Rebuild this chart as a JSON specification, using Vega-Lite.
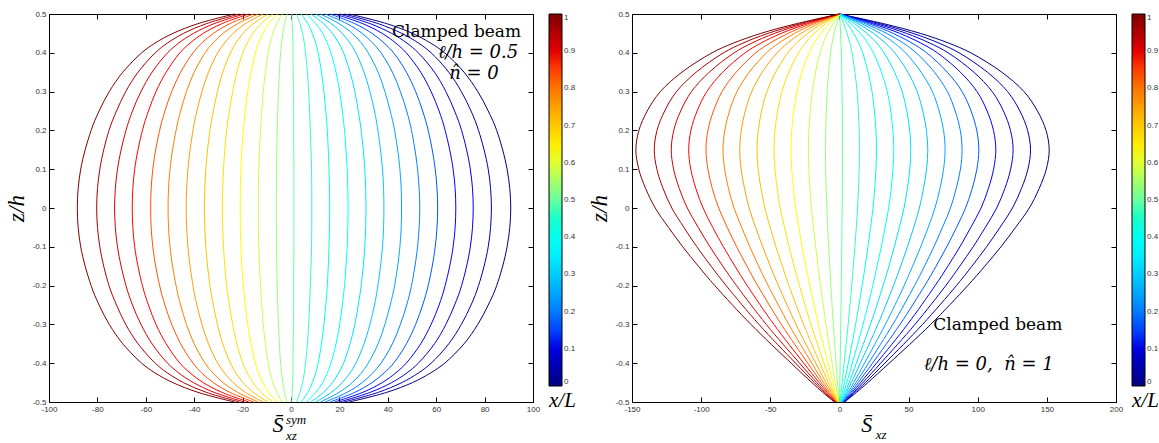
{
"$schema":"https://vega.github.io/schema/vega-lite/v6.json",
"background":"white",
"padding":{"left":4,"top":9,"right":0,"bottom":0},
"spacing":99,
"bounds":"flush",
"resolve":{"scale":{"color":"independent"}},
"config":{
 "view":{"stroke":"black","strokeWidth":1},
 "axis":{"grid":false,"domainColor":"black","domainWidth":1,"tickColor":"black","tickWidth":1,"tickSize":-5,"labelPadding":8,"labelFont":"Liberation Sans","labelFontSize":8,"labelColor":"#333333","labelFlush":false,"labelOverlap":false,"titleFont":"Liberation Serif","titleFontStyle":"italic","titleFontWeight":"normal","titleFontSize":23,"titleColor":"black"},
 "legend":{"gradientLength":372,"gradientThickness":13,"gradientStrokeColor":"black","gradientStrokeWidth":1,"labelFont":"Liberation Sans","labelFontSize":8,"labelColor":"#333333","labelOffset":2,"labelOverlap":false,"titleFont":"Liberation Serif","titleFontStyle":"italic","titleFontWeight":"normal","titleFontSize":21,"titleColor":"black","titleOrient":"bottom","titlePadding":3,"offset":15,"padding":0},
 "text":{"font":"Liberation Serif","fill":"black"}
},
"datasets":{
"L":[
{"c":0,"z":-0.5,"s":24.1},{"c":0,"z":-0.475,"s":39.6},{"c":0,"z":-0.45,"s":50.2},{"c":0,"z":-0.425,"s":57.7},{"c":0,"z":-0.4,"s":63.5},{"c":0,"z":-0.35,"s":71.5},{"c":0,"z":-0.3,"s":77.2},{"c":0,"z":-0.25,"s":81.5},{"c":0,"z":-0.2,"s":85.0},{"c":0,"z":-0.1,"s":89.3},{"c":0,"z":0,"s":90.8},{"c":0,"z":0.1,"s":89.3},{"c":0,"z":0.2,"s":85.0},{"c":0,"z":0.25,"s":81.5},{"c":0,"z":0.3,"s":77.2},{"c":0,"z":0.35,"s":71.5},{"c":0,"z":0.4,"s":63.5},{"c":0,"z":0.425,"s":57.7},{"c":0,"z":0.45,"s":50.2},{"c":0,"z":0.475,"s":39.6},{"c":0,"z":0.5,"s":24.1},
{"c":0.0417,"z":-0.5,"s":21.9},{"c":0.0417,"z":-0.475,"s":36.1},{"c":0.0417,"z":-0.45,"s":45.8},{"c":0.0417,"z":-0.425,"s":52.7},{"c":0.0417,"z":-0.4,"s":57.9},{"c":0.0417,"z":-0.35,"s":65.2},{"c":0.0417,"z":-0.3,"s":70.4},{"c":0.0417,"z":-0.25,"s":74.4},{"c":0.0417,"z":-0.2,"s":77.5},{"c":0.0417,"z":-0.1,"s":81.5},{"c":0.0417,"z":0,"s":82.8},{"c":0.0417,"z":0.1,"s":81.5},{"c":0.0417,"z":0.2,"s":77.5},{"c":0.0417,"z":0.25,"s":74.4},{"c":0.0417,"z":0.3,"s":70.4},{"c":0.0417,"z":0.35,"s":65.2},{"c":0.0417,"z":0.4,"s":57.9},{"c":0.0417,"z":0.425,"s":52.7},{"c":0.0417,"z":0.45,"s":45.8},{"c":0.0417,"z":0.475,"s":36.1},{"c":0.0417,"z":0.5,"s":21.9},
{"c":0.0833,"z":-0.5,"s":20.0},{"c":0.0833,"z":-0.475,"s":32.8},{"c":0.0833,"z":-0.45,"s":41.6},{"c":0.0833,"z":-0.425,"s":47.9},{"c":0.0833,"z":-0.4,"s":52.6},{"c":0.0833,"z":-0.35,"s":59.3},{"c":0.0833,"z":-0.3,"s":64.0},{"c":0.0833,"z":-0.25,"s":67.6},{"c":0.0833,"z":-0.2,"s":70.5},{"c":0.0833,"z":-0.1,"s":74.1},{"c":0.0833,"z":0,"s":75.3},{"c":0.0833,"z":0.1,"s":74.1},{"c":0.0833,"z":0.2,"s":70.5},{"c":0.0833,"z":0.25,"s":67.6},{"c":0.0833,"z":0.3,"s":64.0},{"c":0.0833,"z":0.35,"s":59.3},{"c":0.0833,"z":0.4,"s":52.6},{"c":0.0833,"z":0.425,"s":47.9},{"c":0.0833,"z":0.45,"s":41.6},{"c":0.0833,"z":0.475,"s":32.8},{"c":0.0833,"z":0.5,"s":20.0},
{"c":0.125,"z":-0.5,"s":18.0},{"c":0.125,"z":-0.475,"s":29.7},{"c":0.125,"z":-0.45,"s":37.7},{"c":0.125,"z":-0.425,"s":43.3},{"c":0.125,"z":-0.4,"s":47.6},{"c":0.125,"z":-0.35,"s":53.6},{"c":0.125,"z":-0.3,"s":57.9},{"c":0.125,"z":-0.25,"s":61.2},{"c":0.125,"z":-0.2,"s":63.7},{"c":0.125,"z":-0.1,"s":67.0},{"c":0.125,"z":0,"s":68.1},{"c":0.125,"z":0.1,"s":67.0},{"c":0.125,"z":0.2,"s":63.7},{"c":0.125,"z":0.25,"s":61.2},{"c":0.125,"z":0.3,"s":57.9},{"c":0.125,"z":0.35,"s":53.6},{"c":0.125,"z":0.4,"s":47.6},{"c":0.125,"z":0.425,"s":43.3},{"c":0.125,"z":0.45,"s":37.7},{"c":0.125,"z":0.475,"s":29.7},{"c":0.125,"z":0.5,"s":18.0},
{"c":0.1667,"z":-0.5,"s":16.1},{"c":0.1667,"z":-0.475,"s":26.4},{"c":0.1667,"z":-0.45,"s":33.5},{"c":0.1667,"z":-0.425,"s":38.5},{"c":0.1667,"z":-0.4,"s":42.4},{"c":0.1667,"z":-0.35,"s":47.7},{"c":0.1667,"z":-0.3,"s":51.5},{"c":0.1667,"z":-0.25,"s":54.4},{"c":0.1667,"z":-0.2,"s":56.7},{"c":0.1667,"z":-0.1,"s":59.6},{"c":0.1667,"z":0,"s":60.6},{"c":0.1667,"z":0.1,"s":59.6},{"c":0.1667,"z":0.2,"s":56.7},{"c":0.1667,"z":0.25,"s":54.4},{"c":0.1667,"z":0.3,"s":51.5},{"c":0.1667,"z":0.35,"s":47.7},{"c":0.1667,"z":0.4,"s":42.4},{"c":0.1667,"z":0.425,"s":38.5},{"c":0.1667,"z":0.45,"s":33.5},{"c":0.1667,"z":0.475,"s":26.4},{"c":0.1667,"z":0.5,"s":16.1},
{"c":0.2083,"z":-0.5,"s":14.1},{"c":0.2083,"z":-0.475,"s":23.2},{"c":0.2083,"z":-0.45,"s":29.4},{"c":0.2083,"z":-0.425,"s":33.8},{"c":0.2083,"z":-0.4,"s":37.2},{"c":0.2083,"z":-0.35,"s":41.9},{"c":0.2083,"z":-0.3,"s":45.2},{"c":0.2083,"z":-0.25,"s":47.8},{"c":0.2083,"z":-0.2,"s":49.8},{"c":0.2083,"z":-0.1,"s":52.3},{"c":0.2083,"z":0,"s":53.2},{"c":0.2083,"z":0.1,"s":52.3},{"c":0.2083,"z":0.2,"s":49.8},{"c":0.2083,"z":0.25,"s":47.8},{"c":0.2083,"z":0.3,"s":45.2},{"c":0.2083,"z":0.35,"s":41.9},{"c":0.2083,"z":0.4,"s":37.2},{"c":0.2083,"z":0.425,"s":33.8},{"c":0.2083,"z":0.45,"s":29.4},{"c":0.2083,"z":0.475,"s":23.2},{"c":0.2083,"z":0.5,"s":14.1},
{"c":0.25,"z":-0.5,"s":12.1},{"c":0.25,"z":-0.475,"s":19.9},{"c":0.25,"z":-0.45,"s":25.3},{"c":0.25,"z":-0.425,"s":29.1},{"c":0.25,"z":-0.4,"s":31.9},{"c":0.25,"z":-0.35,"s":36.0},{"c":0.25,"z":-0.3,"s":38.8},{"c":0.25,"z":-0.25,"s":41.0},{"c":0.25,"z":-0.2,"s":42.8},{"c":0.25,"z":-0.1,"s":45.0},{"c":0.25,"z":0,"s":45.7},{"c":0.25,"z":0.1,"s":45.0},{"c":0.25,"z":0.2,"s":42.8},{"c":0.25,"z":0.25,"s":41.0},{"c":0.25,"z":0.3,"s":38.8},{"c":0.25,"z":0.35,"s":36.0},{"c":0.25,"z":0.4,"s":31.9},{"c":0.25,"z":0.425,"s":29.1},{"c":0.25,"z":0.45,"s":25.3},{"c":0.25,"z":0.475,"s":19.9},{"c":0.25,"z":0.5,"s":12.1},
{"c":0.2917,"z":-0.5,"s":10.2},{"c":0.2917,"z":-0.475,"s":16.7},{"c":0.2917,"z":-0.45,"s":21.2},{"c":0.2917,"z":-0.425,"s":24.4},{"c":0.2917,"z":-0.4,"s":26.8},{"c":0.2917,"z":-0.35,"s":30.2},{"c":0.2917,"z":-0.3,"s":32.6},{"c":0.2917,"z":-0.25,"s":34.5},{"c":0.2917,"z":-0.2,"s":35.9},{"c":0.2917,"z":-0.1,"s":37.8},{"c":0.2917,"z":0,"s":38.4},{"c":0.2917,"z":0.1,"s":37.8},{"c":0.2917,"z":0.2,"s":35.9},{"c":0.2917,"z":0.25,"s":34.5},{"c":0.2917,"z":0.3,"s":32.6},{"c":0.2917,"z":0.35,"s":30.2},{"c":0.2917,"z":0.4,"s":26.8},{"c":0.2917,"z":0.425,"s":24.4},{"c":0.2917,"z":0.45,"s":21.2},{"c":0.2917,"z":0.475,"s":16.7},{"c":0.2917,"z":0.5,"s":10.2},
{"c":0.3333,"z":-0.5,"s":8.2},{"c":0.3333,"z":-0.475,"s":13.5},{"c":0.3333,"z":-0.45,"s":17.1},{"c":0.3333,"z":-0.425,"s":19.7},{"c":0.3333,"z":-0.4,"s":21.7},{"c":0.3333,"z":-0.35,"s":24.4},{"c":0.3333,"z":-0.3,"s":26.4},{"c":0.3333,"z":-0.25,"s":27.8},{"c":0.3333,"z":-0.2,"s":29.0},{"c":0.3333,"z":-0.1,"s":30.5},{"c":0.3333,"z":0,"s":31.0},{"c":0.3333,"z":0.1,"s":30.5},{"c":0.3333,"z":0.2,"s":29.0},{"c":0.3333,"z":0.25,"s":27.8},{"c":0.3333,"z":0.3,"s":26.4},{"c":0.3333,"z":0.35,"s":24.4},{"c":0.3333,"z":0.4,"s":21.7},{"c":0.3333,"z":0.425,"s":19.7},{"c":0.3333,"z":0.45,"s":17.1},{"c":0.3333,"z":0.475,"s":13.5},{"c":0.3333,"z":0.5,"s":8.2},
{"c":0.375,"z":-0.5,"s":6.3},{"c":0.375,"z":-0.475,"s":10.3},{"c":0.375,"z":-0.45,"s":13.1},{"c":0.375,"z":-0.425,"s":15.0},{"c":0.375,"z":-0.4,"s":16.5},{"c":0.375,"z":-0.35,"s":18.6},{"c":0.375,"z":-0.3,"s":20.1},{"c":0.375,"z":-0.25,"s":21.2},{"c":0.375,"z":-0.2,"s":22.1},{"c":0.375,"z":-0.1,"s":23.2},{"c":0.375,"z":0,"s":23.6},{"c":0.375,"z":0.1,"s":23.2},{"c":0.375,"z":0.2,"s":22.1},{"c":0.375,"z":0.25,"s":21.2},{"c":0.375,"z":0.3,"s":20.1},{"c":0.375,"z":0.35,"s":18.6},{"c":0.375,"z":0.4,"s":16.5},{"c":0.375,"z":0.425,"s":15.0},{"c":0.375,"z":0.45,"s":13.1},{"c":0.375,"z":0.475,"s":10.3},{"c":0.375,"z":0.5,"s":6.3},
{"c":0.4167,"z":-0.5,"s":4.2},{"c":0.4167,"z":-0.475,"s":7.0},{"c":0.4167,"z":-0.45,"s":8.8},{"c":0.4167,"z":-0.425,"s":10.2},{"c":0.4167,"z":-0.4,"s":11.2},{"c":0.4167,"z":-0.35,"s":12.6},{"c":0.4167,"z":-0.3,"s":13.6},{"c":0.4167,"z":-0.25,"s":14.4},{"c":0.4167,"z":-0.2,"s":15.0},{"c":0.4167,"z":-0.1,"s":15.7},{"c":0.4167,"z":0,"s":16.0},{"c":0.4167,"z":0.1,"s":15.7},{"c":0.4167,"z":0.2,"s":15.0},{"c":0.4167,"z":0.25,"s":14.4},{"c":0.4167,"z":0.3,"s":13.6},{"c":0.4167,"z":0.35,"s":12.6},{"c":0.4167,"z":0.4,"s":11.2},{"c":0.4167,"z":0.425,"s":10.2},{"c":0.4167,"z":0.45,"s":8.8},{"c":0.4167,"z":0.475,"s":7.0},{"c":0.4167,"z":0.5,"s":4.2},
{"c":0.4583,"z":-0.5,"s":2.3},{"c":0.4583,"z":-0.475,"s":3.7},{"c":0.4583,"z":-0.45,"s":4.8},{"c":0.4583,"z":-0.425,"s":5.5},{"c":0.4583,"z":-0.4,"s":6.0},{"c":0.4583,"z":-0.35,"s":6.8},{"c":0.4583,"z":-0.3,"s":7.3},{"c":0.4583,"z":-0.25,"s":7.7},{"c":0.4583,"z":-0.2,"s":8.0},{"c":0.4583,"z":-0.1,"s":8.5},{"c":0.4583,"z":0,"s":8.6},{"c":0.4583,"z":0.1,"s":8.5},{"c":0.4583,"z":0.2,"s":8.0},{"c":0.4583,"z":0.25,"s":7.7},{"c":0.4583,"z":0.3,"s":7.3},{"c":0.4583,"z":0.35,"s":6.8},{"c":0.4583,"z":0.4,"s":6.0},{"c":0.4583,"z":0.425,"s":5.5},{"c":0.4583,"z":0.45,"s":4.8},{"c":0.4583,"z":0.475,"s":3.7},{"c":0.4583,"z":0.5,"s":2.3},
{"c":0.5,"z":-0.5,"s":0.3},{"c":0.5,"z":-0.475,"s":0.5},{"c":0.5,"z":-0.45,"s":0.7},{"c":0.5,"z":-0.425,"s":0.8},{"c":0.5,"z":-0.4,"s":0.8},{"c":0.5,"z":-0.35,"s":0.9},{"c":0.5,"z":-0.3,"s":1.0},{"c":0.5,"z":-0.25,"s":1.1},{"c":0.5,"z":-0.2,"s":1.1},{"c":0.5,"z":-0.1,"s":1.2},{"c":0.5,"z":0,"s":1.2},{"c":0.5,"z":0.1,"s":1.2},{"c":0.5,"z":0.2,"s":1.1},{"c":0.5,"z":0.25,"s":1.1},{"c":0.5,"z":0.3,"s":1.0},{"c":0.5,"z":0.35,"s":0.9},{"c":0.5,"z":0.4,"s":0.8},{"c":0.5,"z":0.425,"s":0.8},{"c":0.5,"z":0.45,"s":0.7},{"c":0.5,"z":0.475,"s":0.5},{"c":0.5,"z":0.5,"s":0.3},
{"c":0.5417,"z":-0.5,"s":-1.6},{"c":0.5417,"z":-0.475,"s":-2.7},{"c":0.5417,"z":-0.45,"s":-3.4},{"c":0.5417,"z":-0.425,"s":-3.9},{"c":0.5417,"z":-0.4,"s":-4.3},{"c":0.5417,"z":-0.35,"s":-4.8},{"c":0.5417,"z":-0.3,"s":-5.2},{"c":0.5417,"z":-0.25,"s":-5.5},{"c":0.5417,"z":-0.2,"s":-5.7},{"c":0.5417,"z":-0.1,"s":-6.0},{"c":0.5417,"z":0,"s":-6.1},{"c":0.5417,"z":0.1,"s":-6.0},{"c":0.5417,"z":0.2,"s":-5.7},{"c":0.5417,"z":0.25,"s":-5.5},{"c":0.5417,"z":0.3,"s":-5.2},{"c":0.5417,"z":0.35,"s":-4.8},{"c":0.5417,"z":0.4,"s":-4.3},{"c":0.5417,"z":0.425,"s":-3.9},{"c":0.5417,"z":0.45,"s":-3.4},{"c":0.5417,"z":0.475,"s":-2.7},{"c":0.5417,"z":0.5,"s":-1.6},
{"c":0.5833,"z":-0.5,"s":-3.6},{"c":0.5833,"z":-0.475,"s":-5.9},{"c":0.5833,"z":-0.45,"s":-7.5},{"c":0.5833,"z":-0.425,"s":-8.6},{"c":0.5833,"z":-0.4,"s":-9.4},{"c":0.5833,"z":-0.35,"s":-10.6},{"c":0.5833,"z":-0.3,"s":-11.5},{"c":0.5833,"z":-0.25,"s":-12.1},{"c":0.5833,"z":-0.2,"s":-12.6},{"c":0.5833,"z":-0.1,"s":-13.3},{"c":0.5833,"z":0,"s":-13.5},{"c":0.5833,"z":0.1,"s":-13.3},{"c":0.5833,"z":0.2,"s":-12.6},{"c":0.5833,"z":0.25,"s":-12.1},{"c":0.5833,"z":0.3,"s":-11.5},{"c":0.5833,"z":0.35,"s":-10.6},{"c":0.5833,"z":0.4,"s":-9.4},{"c":0.5833,"z":0.425,"s":-8.6},{"c":0.5833,"z":0.45,"s":-7.5},{"c":0.5833,"z":0.475,"s":-5.9},{"c":0.5833,"z":0.5,"s":-3.6},
{"c":0.625,"z":-0.5,"s":-5.6},{"c":0.625,"z":-0.475,"s":-9.2},{"c":0.625,"z":-0.45,"s":-11.6},{"c":0.625,"z":-0.425,"s":-13.4},{"c":0.625,"z":-0.4,"s":-14.7},{"c":0.625,"z":-0.35,"s":-16.5},{"c":0.625,"z":-0.3,"s":-17.9},{"c":0.625,"z":-0.25,"s":-18.9},{"c":0.625,"z":-0.2,"s":-19.7},{"c":0.625,"z":-0.1,"s":-20.7},{"c":0.625,"z":0,"s":-21.0},{"c":0.625,"z":0.1,"s":-20.7},{"c":0.625,"z":0.2,"s":-19.7},{"c":0.625,"z":0.25,"s":-18.9},{"c":0.625,"z":0.3,"s":-17.9},{"c":0.625,"z":0.35,"s":-16.5},{"c":0.625,"z":0.4,"s":-14.7},{"c":0.625,"z":0.425,"s":-13.4},{"c":0.625,"z":0.45,"s":-11.6},{"c":0.625,"z":0.475,"s":-9.2},{"c":0.625,"z":0.5,"s":-5.6},
{"c":0.6667,"z":-0.5,"s":-7.5},{"c":0.6667,"z":-0.475,"s":-12.4},{"c":0.6667,"z":-0.45,"s":-15.7},{"c":0.6667,"z":-0.425,"s":-18.1},{"c":0.6667,"z":-0.4,"s":-19.9},{"c":0.6667,"z":-0.35,"s":-22.4},{"c":0.6667,"z":-0.3,"s":-24.1},{"c":0.6667,"z":-0.25,"s":-25.5},{"c":0.6667,"z":-0.2,"s":-26.6},{"c":0.6667,"z":-0.1,"s":-27.9},{"c":0.6667,"z":0,"s":-28.4},{"c":0.6667,"z":0.1,"s":-27.9},{"c":0.6667,"z":0.2,"s":-26.6},{"c":0.6667,"z":0.25,"s":-25.5},{"c":0.6667,"z":0.3,"s":-24.1},{"c":0.6667,"z":0.35,"s":-22.4},{"c":0.6667,"z":0.4,"s":-19.9},{"c":0.6667,"z":0.425,"s":-18.1},{"c":0.6667,"z":0.45,"s":-15.7},{"c":0.6667,"z":0.475,"s":-12.4},{"c":0.6667,"z":0.5,"s":-7.5},
{"c":0.7083,"z":-0.5,"s":-9.5},{"c":0.7083,"z":-0.475,"s":-15.6},{"c":0.7083,"z":-0.45,"s":-19.8},{"c":0.7083,"z":-0.425,"s":-22.8},{"c":0.7083,"z":-0.4,"s":-25.0},{"c":0.7083,"z":-0.35,"s":-28.2},{"c":0.7083,"z":-0.3,"s":-30.4},{"c":0.7083,"z":-0.25,"s":-32.1},{"c":0.7083,"z":-0.2,"s":-33.5},{"c":0.7083,"z":-0.1,"s":-35.2},{"c":0.7083,"z":0,"s":-35.8},{"c":0.7083,"z":0.1,"s":-35.2},{"c":0.7083,"z":0.2,"s":-33.5},{"c":0.7083,"z":0.25,"s":-32.1},{"c":0.7083,"z":0.3,"s":-30.4},{"c":0.7083,"z":0.35,"s":-28.2},{"c":0.7083,"z":0.4,"s":-25.0},{"c":0.7083,"z":0.425,"s":-22.8},{"c":0.7083,"z":0.45,"s":-19.8},{"c":0.7083,"z":0.475,"s":-15.6},{"c":0.7083,"z":0.5,"s":-9.5},
{"c":0.75,"z":-0.5,"s":-11.5},{"c":0.75,"z":-0.475,"s":-18.9},{"c":0.75,"z":-0.45,"s":-23.9},{"c":0.75,"z":-0.425,"s":-27.5},{"c":0.75,"z":-0.4,"s":-30.3},{"c":0.75,"z":-0.35,"s":-34.1},{"c":0.75,"z":-0.3,"s":-36.8},{"c":0.75,"z":-0.25,"s":-38.9},{"c":0.75,"z":-0.2,"s":-40.5},{"c":0.75,"z":-0.1,"s":-42.6},{"c":0.75,"z":0,"s":-43.3},{"c":0.75,"z":0.1,"s":-42.6},{"c":0.75,"z":0.2,"s":-40.5},{"c":0.75,"z":0.25,"s":-38.9},{"c":0.75,"z":0.3,"s":-36.8},{"c":0.75,"z":0.35,"s":-34.1},{"c":0.75,"z":0.4,"s":-30.3},{"c":0.75,"z":0.425,"s":-27.5},{"c":0.75,"z":0.45,"s":-23.9},{"c":0.75,"z":0.475,"s":-18.9},{"c":0.75,"z":0.5,"s":-11.5},
{"c":0.7917,"z":-0.5,"s":-13.5},{"c":0.7917,"z":-0.475,"s":-22.1},{"c":0.7917,"z":-0.45,"s":-28.1},{"c":0.7917,"z":-0.425,"s":-32.3},{"c":0.7917,"z":-0.4,"s":-35.5},{"c":0.7917,"z":-0.35,"s":-40.0},{"c":0.7917,"z":-0.3,"s":-43.2},{"c":0.7917,"z":-0.25,"s":-45.6},{"c":0.7917,"z":-0.2,"s":-47.5},{"c":0.7917,"z":-0.1,"s":-50.0},{"c":0.7917,"z":0,"s":-50.8},{"c":0.7917,"z":0.1,"s":-50.0},{"c":0.7917,"z":0.2,"s":-47.5},{"c":0.7917,"z":0.25,"s":-45.6},{"c":0.7917,"z":0.3,"s":-43.2},{"c":0.7917,"z":0.35,"s":-40.0},{"c":0.7917,"z":0.4,"s":-35.5},{"c":0.7917,"z":0.425,"s":-32.3},{"c":0.7917,"z":0.45,"s":-28.1},{"c":0.7917,"z":0.475,"s":-22.1},{"c":0.7917,"z":0.5,"s":-13.5},
{"c":0.8333,"z":-0.5,"s":-15.4},{"c":0.8333,"z":-0.475,"s":-25.3},{"c":0.8333,"z":-0.45,"s":-32.1},{"c":0.8333,"z":-0.425,"s":-36.9},{"c":0.8333,"z":-0.4,"s":-40.5},{"c":0.8333,"z":-0.35,"s":-45.6},{"c":0.8333,"z":-0.3,"s":-49.3},{"c":0.8333,"z":-0.25,"s":-52.1},{"c":0.8333,"z":-0.2,"s":-54.3},{"c":0.8333,"z":-0.1,"s":-57.1},{"c":0.8333,"z":0,"s":-58.0},{"c":0.8333,"z":0.1,"s":-57.1},{"c":0.8333,"z":0.2,"s":-54.3},{"c":0.8333,"z":0.25,"s":-52.1},{"c":0.8333,"z":0.3,"s":-49.3},{"c":0.8333,"z":0.35,"s":-45.6},{"c":0.8333,"z":0.4,"s":-40.5},{"c":0.8333,"z":0.425,"s":-36.9},{"c":0.8333,"z":0.45,"s":-32.1},{"c":0.8333,"z":0.475,"s":-25.3},{"c":0.8333,"z":0.5,"s":-15.4},
{"c":0.875,"z":-0.5,"s":-17.4},{"c":0.875,"z":-0.475,"s":-28.6},{"c":0.875,"z":-0.45,"s":-36.3},{"c":0.875,"z":-0.425,"s":-41.7},{"c":0.875,"z":-0.4,"s":-45.9},{"c":0.875,"z":-0.35,"s":-51.6},{"c":0.875,"z":-0.3,"s":-55.8},{"c":0.875,"z":-0.25,"s":-58.9},{"c":0.875,"z":-0.2,"s":-61.4},{"c":0.875,"z":-0.1,"s":-64.6},{"c":0.875,"z":0,"s":-65.6},{"c":0.875,"z":0.1,"s":-64.6},{"c":0.875,"z":0.2,"s":-61.4},{"c":0.875,"z":0.25,"s":-58.9},{"c":0.875,"z":0.3,"s":-55.8},{"c":0.875,"z":0.35,"s":-51.6},{"c":0.875,"z":0.4,"s":-45.9},{"c":0.875,"z":0.425,"s":-41.7},{"c":0.875,"z":0.45,"s":-36.3},{"c":0.875,"z":0.475,"s":-28.6},{"c":0.875,"z":0.5,"s":-17.4},
{"c":0.9167,"z":-0.5,"s":-19.3},{"c":0.9167,"z":-0.475,"s":-31.8},{"c":0.9167,"z":-0.45,"s":-40.3},{"c":0.9167,"z":-0.425,"s":-46.4},{"c":0.9167,"z":-0.4,"s":-51.0},{"c":0.9167,"z":-0.35,"s":-57.4},{"c":0.9167,"z":-0.3,"s":-62.0},{"c":0.9167,"z":-0.25,"s":-65.5},{"c":0.9167,"z":-0.2,"s":-68.2},{"c":0.9167,"z":-0.1,"s":-71.7},{"c":0.9167,"z":0,"s":-72.9},{"c":0.9167,"z":0.1,"s":-71.7},{"c":0.9167,"z":0.2,"s":-68.2},{"c":0.9167,"z":0.25,"s":-65.5},{"c":0.9167,"z":0.3,"s":-62.0},{"c":0.9167,"z":0.35,"s":-57.4},{"c":0.9167,"z":0.4,"s":-51.0},{"c":0.9167,"z":0.425,"s":-46.4},{"c":0.9167,"z":0.45,"s":-40.3},{"c":0.9167,"z":0.475,"s":-31.8},{"c":0.9167,"z":0.5,"s":-19.3},
{"c":0.9583,"z":-0.5,"s":-21.3},{"c":0.9583,"z":-0.475,"s":-35.0},{"c":0.9583,"z":-0.45,"s":-44.4},{"c":0.9583,"z":-0.425,"s":-51.1},{"c":0.9583,"z":-0.4,"s":-56.1},{"c":0.9583,"z":-0.35,"s":-63.2},{"c":0.9583,"z":-0.3,"s":-68.3},{"c":0.9583,"z":-0.25,"s":-72.1},{"c":0.9583,"z":-0.2,"s":-75.2},{"c":0.9583,"z":-0.1,"s":-79.0},{"c":0.9583,"z":0,"s":-80.3},{"c":0.9583,"z":0.1,"s":-79.0},{"c":0.9583,"z":0.2,"s":-75.2},{"c":0.9583,"z":0.25,"s":-72.1},{"c":0.9583,"z":0.3,"s":-68.3},{"c":0.9583,"z":0.35,"s":-63.2},{"c":0.9583,"z":0.4,"s":-56.1},{"c":0.9583,"z":0.425,"s":-51.1},{"c":0.9583,"z":0.45,"s":-44.4},{"c":0.9583,"z":0.475,"s":-35.0},{"c":0.9583,"z":0.5,"s":-21.3},
{"c":1,"z":-0.5,"s":-23.4},{"c":1,"z":-0.475,"s":-38.5},{"c":1,"z":-0.45,"s":-48.8},{"c":1,"z":-0.425,"s":-56.2},{"c":1,"z":-0.4,"s":-61.7},{"c":1,"z":-0.35,"s":-69.5},{"c":1,"z":-0.3,"s":-75.1},{"c":1,"z":-0.25,"s":-79.3},{"c":1,"z":-0.2,"s":-82.6},{"c":1,"z":-0.1,"s":-86.9},{"c":1,"z":0,"s":-88.3},{"c":1,"z":0.1,"s":-86.9},{"c":1,"z":0.2,"s":-82.6},{"c":1,"z":0.25,"s":-79.3},{"c":1,"z":0.3,"s":-75.1},{"c":1,"z":0.35,"s":-69.5},{"c":1,"z":0.4,"s":-61.7},{"c":1,"z":0.425,"s":-56.2},{"c":1,"z":0.45,"s":-48.8},{"c":1,"z":0.475,"s":-38.5},{"c":1,"z":0.5,"s":-23.4}
],
"R":[
{"c":0,"z":0.5,"s":0},{"c":0,"z":0.475,"s":32.0},{"c":0,"z":0.45,"s":58.6},{"c":0,"z":0.425,"s":79.0},{"c":0,"z":0.4,"s":95.0},{"c":0,"z":0.35,"s":117.4},{"c":0,"z":0.3,"s":133.5},{"c":0,"z":0.25,"s":143.2},{"c":0,"z":0.2,"s":149.4},{"c":0,"z":0.15,"s":151.7},{"c":0,"z":0.1,"s":149.6},{"c":0,"z":0.05,"s":144.4},{"c":0,"z":0,"s":137.3},{"c":0,"z":-0.05,"s":127.4},{"c":0,"z":-0.1,"s":116.8},{"c":0,"z":-0.15,"s":105.1},{"c":0,"z":-0.2,"s":92.8},{"c":0,"z":-0.3,"s":66.0},{"c":0,"z":-0.4,"s":36.0},{"c":0,"z":-0.45,"s":20.5},{"c":0,"z":-0.475,"s":12.4},{"c":0,"z":-0.5,"s":3.8},
{"c":0.0417,"z":0.5,"s":0},{"c":0.0417,"z":0.475,"s":29.2},{"c":0.0417,"z":0.45,"s":53.3},{"c":0.0417,"z":0.425,"s":72.0},{"c":0.0417,"z":0.4,"s":86.5},{"c":0.0417,"z":0.35,"s":107.0},{"c":0.0417,"z":0.3,"s":121.6},{"c":0.0417,"z":0.25,"s":130.5},{"c":0.0417,"z":0.2,"s":136.1},{"c":0.0417,"z":0.15,"s":138.2},{"c":0.0417,"z":0.1,"s":136.3},{"c":0.0417,"z":0.05,"s":131.6},{"c":0.0417,"z":0,"s":125.1},{"c":0.0417,"z":-0.05,"s":116.1},{"c":0.0417,"z":-0.1,"s":106.4},{"c":0.0417,"z":-0.15,"s":95.8},{"c":0.0417,"z":-0.2,"s":84.6},{"c":0.0417,"z":-0.3,"s":60.1},{"c":0.0417,"z":-0.4,"s":32.8},{"c":0.0417,"z":-0.45,"s":18.7},{"c":0.0417,"z":-0.475,"s":11.3},{"c":0.0417,"z":-0.5,"s":3.5},
{"c":0.0833,"z":0.5,"s":0},{"c":0.0833,"z":0.475,"s":26.5},{"c":0.0833,"z":0.45,"s":48.5},{"c":0.0833,"z":0.425,"s":65.4},{"c":0.0833,"z":0.4,"s":78.6},{"c":0.0833,"z":0.35,"s":97.2},{"c":0.0833,"z":0.3,"s":110.5},{"c":0.0833,"z":0.25,"s":118.6},{"c":0.0833,"z":0.2,"s":123.7},{"c":0.0833,"z":0.15,"s":125.6},{"c":0.0833,"z":0.1,"s":123.8},{"c":0.0833,"z":0.05,"s":119.6},{"c":0.0833,"z":0,"s":113.7},{"c":0.0833,"z":-0.05,"s":105.5},{"c":0.0833,"z":-0.1,"s":96.7},{"c":0.0833,"z":-0.15,"s":87.0},{"c":0.0833,"z":-0.2,"s":76.9},{"c":0.0833,"z":-0.3,"s":54.6},{"c":0.0833,"z":-0.4,"s":29.8},{"c":0.0833,"z":-0.45,"s":17.0},{"c":0.0833,"z":-0.475,"s":10.3},{"c":0.0833,"z":-0.5,"s":3.1},
{"c":0.125,"z":0.5,"s":0},{"c":0.125,"z":0.475,"s":23.9},{"c":0.125,"z":0.45,"s":43.7},{"c":0.125,"z":0.425,"s":58.9},{"c":0.125,"z":0.4,"s":70.8},{"c":0.125,"z":0.35,"s":87.5},{"c":0.125,"z":0.3,"s":99.5},{"c":0.125,"z":0.25,"s":106.8},{"c":0.125,"z":0.2,"s":111.4},{"c":0.125,"z":0.15,"s":113.1},{"c":0.125,"z":0.1,"s":111.5},{"c":0.125,"z":0.05,"s":107.7},{"c":0.125,"z":0,"s":102.4},{"c":0.125,"z":-0.05,"s":95.0},{"c":0.125,"z":-0.1,"s":87.1},{"c":0.125,"z":-0.15,"s":78.4},{"c":0.125,"z":-0.2,"s":69.2},{"c":0.125,"z":-0.3,"s":49.2},{"c":0.125,"z":-0.4,"s":26.8},{"c":0.125,"z":-0.45,"s":15.3},{"c":0.125,"z":-0.475,"s":9.3},{"c":0.125,"z":-0.5,"s":2.8},
{"c":0.1667,"z":0.5,"s":0},{"c":0.1667,"z":0.475,"s":21.3},{"c":0.1667,"z":0.45,"s":38.9},{"c":0.1667,"z":0.425,"s":52.5},{"c":0.1667,"z":0.4,"s":63.1},{"c":0.1667,"z":0.35,"s":78.0},{"c":0.1667,"z":0.3,"s":88.7},{"c":0.1667,"z":0.25,"s":95.2},{"c":0.1667,"z":0.2,"s":99.3},{"c":0.1667,"z":0.15,"s":100.8},{"c":0.1667,"z":0.1,"s":99.4},{"c":0.1667,"z":0.05,"s":96.0},{"c":0.1667,"z":0,"s":91.2},{"c":0.1667,"z":-0.05,"s":84.7},{"c":0.1667,"z":-0.1,"s":77.6},{"c":0.1667,"z":-0.15,"s":69.9},{"c":0.1667,"z":-0.2,"s":61.7},{"c":0.1667,"z":-0.3,"s":43.8},{"c":0.1667,"z":-0.4,"s":23.9},{"c":0.1667,"z":-0.45,"s":13.6},{"c":0.1667,"z":-0.475,"s":8.3},{"c":0.1667,"z":-0.5,"s":2.5},
{"c":0.2083,"z":0.5,"s":0},{"c":0.2083,"z":0.475,"s":18.7},{"c":0.2083,"z":0.45,"s":34.2},{"c":0.2083,"z":0.425,"s":46.2},{"c":0.2083,"z":0.4,"s":55.5},{"c":0.2083,"z":0.35,"s":68.7},{"c":0.2083,"z":0.3,"s":78.1},{"c":0.2083,"z":0.25,"s":83.7},{"c":0.2083,"z":0.2,"s":87.4},{"c":0.2083,"z":0.15,"s":88.7},{"c":0.2083,"z":0.1,"s":87.5},{"c":0.2083,"z":0.05,"s":84.4},{"c":0.2083,"z":0,"s":80.3},{"c":0.2083,"z":-0.05,"s":74.5},{"c":0.2083,"z":-0.1,"s":68.3},{"c":0.2083,"z":-0.15,"s":61.5},{"c":0.2083,"z":-0.2,"s":54.3},{"c":0.2083,"z":-0.3,"s":38.6},{"c":0.2083,"z":-0.4,"s":21.0},{"c":0.2083,"z":-0.45,"s":12.0},{"c":0.2083,"z":-0.475,"s":7.3},{"c":0.2083,"z":-0.5,"s":2.2},
{"c":0.25,"z":0.5,"s":0},{"c":0.25,"z":0.475,"s":16.1},{"c":0.25,"z":0.45,"s":29.5},{"c":0.25,"z":0.425,"s":39.8},{"c":0.25,"z":0.4,"s":47.8},{"c":0.25,"z":0.35,"s":59.1},{"c":0.25,"z":0.3,"s":67.2},{"c":0.25,"z":0.25,"s":72.1},{"c":0.25,"z":0.2,"s":75.3},{"c":0.25,"z":0.15,"s":76.4},{"c":0.25,"z":0.1,"s":75.3},{"c":0.25,"z":0.05,"s":72.7},{"c":0.25,"z":0,"s":69.1},{"c":0.25,"z":-0.05,"s":64.2},{"c":0.25,"z":-0.1,"s":58.8},{"c":0.25,"z":-0.15,"s":52.9},{"c":0.25,"z":-0.2,"s":46.8},{"c":0.25,"z":-0.3,"s":33.2},{"c":0.25,"z":-0.4,"s":18.1},{"c":0.25,"z":-0.45,"s":10.3},{"c":0.25,"z":-0.475,"s":6.3},{"c":0.25,"z":-0.5,"s":1.9},
{"c":0.2917,"z":0.5,"s":0},{"c":0.2917,"z":0.475,"s":13.5},{"c":0.2917,"z":0.45,"s":24.7},{"c":0.2917,"z":0.425,"s":33.3},{"c":0.2917,"z":0.4,"s":40.0},{"c":0.2917,"z":0.35,"s":49.5},{"c":0.2917,"z":0.3,"s":56.2},{"c":0.2917,"z":0.25,"s":60.3},{"c":0.2917,"z":0.2,"s":62.9},{"c":0.2917,"z":0.15,"s":63.9},{"c":0.2917,"z":0.1,"s":63.0},{"c":0.2917,"z":0.05,"s":60.8},{"c":0.2917,"z":0,"s":57.8},{"c":0.2917,"z":-0.05,"s":53.7},{"c":0.2917,"z":-0.1,"s":49.2},{"c":0.2917,"z":-0.15,"s":44.3},{"c":0.2917,"z":-0.2,"s":39.1},{"c":0.2917,"z":-0.3,"s":27.8},{"c":0.2917,"z":-0.4,"s":15.1},{"c":0.2917,"z":-0.45,"s":8.6},{"c":0.2917,"z":-0.475,"s":5.2},{"c":0.2917,"z":-0.5,"s":1.6},
{"c":0.3333,"z":0.5,"s":0},{"c":0.3333,"z":0.475,"s":10.9},{"c":0.3333,"z":0.45,"s":19.9},{"c":0.3333,"z":0.425,"s":26.9},{"c":0.3333,"z":0.4,"s":32.3},{"c":0.3333,"z":0.35,"s":39.9},{"c":0.3333,"z":0.3,"s":45.4},{"c":0.3333,"z":0.25,"s":48.7},{"c":0.3333,"z":0.2,"s":50.8},{"c":0.3333,"z":0.15,"s":51.6},{"c":0.3333,"z":0.1,"s":50.9},{"c":0.3333,"z":0.05,"s":49.1},{"c":0.3333,"z":0,"s":46.7},{"c":0.3333,"z":-0.05,"s":43.3},{"c":0.3333,"z":-0.1,"s":39.7},{"c":0.3333,"z":-0.15,"s":35.8},{"c":0.3333,"z":-0.2,"s":31.6},{"c":0.3333,"z":-0.3,"s":22.4},{"c":0.3333,"z":-0.4,"s":12.2},{"c":0.3333,"z":-0.45,"s":7.0},{"c":0.3333,"z":-0.475,"s":4.2},{"c":0.3333,"z":-0.5,"s":1.3},
{"c":0.375,"z":0.5,"s":0},{"c":0.375,"z":0.475,"s":8.3},{"c":0.375,"z":0.45,"s":15.2},{"c":0.375,"z":0.425,"s":20.5},{"c":0.375,"z":0.4,"s":24.6},{"c":0.375,"z":0.35,"s":30.4},{"c":0.375,"z":0.3,"s":34.6},{"c":0.375,"z":0.25,"s":37.1},{"c":0.375,"z":0.2,"s":38.7},{"c":0.375,"z":0.15,"s":39.3},{"c":0.375,"z":0.1,"s":38.7},{"c":0.375,"z":0.05,"s":37.4},{"c":0.375,"z":0,"s":35.6},{"c":0.375,"z":-0.05,"s":33.0},{"c":0.375,"z":-0.1,"s":30.3},{"c":0.375,"z":-0.15,"s":27.2},{"c":0.375,"z":-0.2,"s":24.1},{"c":0.375,"z":-0.3,"s":17.1},{"c":0.375,"z":-0.4,"s":9.3},{"c":0.375,"z":-0.45,"s":5.3},{"c":0.375,"z":-0.475,"s":3.2},{"c":0.375,"z":-0.5,"s":1.0},
{"c":0.4167,"z":0.5,"s":0},{"c":0.4167,"z":0.475,"s":5.7},{"c":0.4167,"z":0.45,"s":10.3},{"c":0.4167,"z":0.425,"s":14.0},{"c":0.4167,"z":0.4,"s":16.8},{"c":0.4167,"z":0.35,"s":20.7},{"c":0.4167,"z":0.3,"s":23.6},{"c":0.4167,"z":0.25,"s":25.3},{"c":0.4167,"z":0.2,"s":26.4},{"c":0.4167,"z":0.15,"s":26.8},{"c":0.4167,"z":0.1,"s":26.4},{"c":0.4167,"z":0.05,"s":25.5},{"c":0.4167,"z":0,"s":24.3},{"c":0.4167,"z":-0.05,"s":22.5},{"c":0.4167,"z":-0.1,"s":20.6},{"c":0.4167,"z":-0.15,"s":18.6},{"c":0.4167,"z":-0.2,"s":16.4},{"c":0.4167,"z":-0.3,"s":11.7},{"c":0.4167,"z":-0.4,"s":6.4},{"c":0.4167,"z":-0.45,"s":3.6},{"c":0.4167,"z":-0.475,"s":2.2},{"c":0.4167,"z":-0.5,"s":0.7},
{"c":0.4583,"z":0.5,"s":0},{"c":0.4583,"z":0.475,"s":3.1},{"c":0.4583,"z":0.45,"s":5.6},{"c":0.4583,"z":0.425,"s":7.6},{"c":0.4583,"z":0.4,"s":9.1},{"c":0.4583,"z":0.35,"s":11.2},{"c":0.4583,"z":0.3,"s":12.8},{"c":0.4583,"z":0.25,"s":13.7},{"c":0.4583,"z":0.2,"s":14.3},{"c":0.4583,"z":0.15,"s":14.5},{"c":0.4583,"z":0.1,"s":14.3},{"c":0.4583,"z":0.05,"s":13.8},{"c":0.4583,"z":0,"s":13.1},{"c":0.4583,"z":-0.05,"s":12.2},{"c":0.4583,"z":-0.1,"s":11.2},{"c":0.4583,"z":-0.15,"s":10.0},{"c":0.4583,"z":-0.2,"s":8.9},{"c":0.4583,"z":-0.3,"s":6.3},{"c":0.4583,"z":-0.4,"s":3.4},{"c":0.4583,"z":-0.45,"s":2.0},{"c":0.4583,"z":-0.475,"s":1.2},{"c":0.4583,"z":-0.5,"s":0.4},
{"c":0.5,"z":0.5,"s":0},{"c":0.5,"z":0.475,"s":0.5},{"c":0.5,"z":0.45,"s":0.8},{"c":0.5,"z":0.425,"s":1.1},{"c":0.5,"z":0.4,"s":1.4},{"c":0.5,"z":0.35,"s":1.7},{"c":0.5,"z":0.3,"s":1.9},{"c":0.5,"z":0.25,"s":2.1},{"c":0.5,"z":0.2,"s":2.2},{"c":0.5,"z":0.15,"s":2.2},{"c":0.5,"z":0.1,"s":2.2},{"c":0.5,"z":0.05,"s":2.1},{"c":0.5,"z":0,"s":2.0},{"c":0.5,"z":-0.05,"s":1.8},{"c":0.5,"z":-0.1,"s":1.7},{"c":0.5,"z":-0.15,"s":1.5},{"c":0.5,"z":-0.2,"s":1.3},{"c":0.5,"z":-0.3,"s":1.0},{"c":0.5,"z":-0.4,"s":0.5},{"c":0.5,"z":-0.45,"s":0.3},{"c":0.5,"z":-0.475,"s":0.2},{"c":0.5,"z":-0.5,"s":0.1},
{"c":0.5417,"z":0.5,"s":0},{"c":0.5417,"z":0.475,"s":-2.1},{"c":0.5417,"z":0.45,"s":-3.9},{"c":0.5417,"z":0.425,"s":-5.3},{"c":0.5417,"z":0.4,"s":-6.3},{"c":0.5417,"z":0.35,"s":-7.8},{"c":0.5417,"z":0.3,"s":-8.9},{"c":0.5417,"z":0.25,"s":-9.5},{"c":0.5417,"z":0.2,"s":-9.9},{"c":0.5417,"z":0.15,"s":-10.1},{"c":0.5417,"z":0.1,"s":-10.0},{"c":0.5417,"z":0.05,"s":-9.6},{"c":0.5417,"z":0,"s":-9.1},{"c":0.5417,"z":-0.05,"s":-8.5},{"c":0.5417,"z":-0.1,"s":-7.8},{"c":0.5417,"z":-0.15,"s":-7.0},{"c":0.5417,"z":-0.2,"s":-6.2},{"c":0.5417,"z":-0.3,"s":-4.4},{"c":0.5417,"z":-0.4,"s":-2.4},{"c":0.5417,"z":-0.45,"s":-1.4},{"c":0.5417,"z":-0.475,"s":-0.8},{"c":0.5417,"z":-0.5,"s":-0.3},
{"c":0.5833,"z":0.5,"s":0},{"c":0.5833,"z":0.475,"s":-4.7},{"c":0.5833,"z":0.45,"s":-8.6},{"c":0.5833,"z":0.425,"s":-11.7},{"c":0.5833,"z":0.4,"s":-14.0},{"c":0.5833,"z":0.35,"s":-17.3},{"c":0.5833,"z":0.3,"s":-19.7},{"c":0.5833,"z":0.25,"s":-21.1},{"c":0.5833,"z":0.2,"s":-22.1},{"c":0.5833,"z":0.15,"s":-22.4},{"c":0.5833,"z":0.1,"s":-22.1},{"c":0.5833,"z":0.05,"s":-21.3},{"c":0.5833,"z":0,"s":-20.3},{"c":0.5833,"z":-0.05,"s":-18.8},{"c":0.5833,"z":-0.1,"s":-17.2},{"c":0.5833,"z":-0.15,"s":-15.5},{"c":0.5833,"z":-0.2,"s":-13.7},{"c":0.5833,"z":-0.3,"s":-9.7},{"c":0.5833,"z":-0.4,"s":-5.3},{"c":0.5833,"z":-0.45,"s":-3.0},{"c":0.5833,"z":-0.475,"s":-1.8},{"c":0.5833,"z":-0.5,"s":-0.6},
{"c":0.625,"z":0.5,"s":0},{"c":0.625,"z":0.475,"s":-7.4},{"c":0.625,"z":0.45,"s":-13.5},{"c":0.625,"z":0.425,"s":-18.2},{"c":0.625,"z":0.4,"s":-21.9},{"c":0.625,"z":0.35,"s":-27.1},{"c":0.625,"z":0.3,"s":-30.8},{"c":0.625,"z":0.25,"s":-33.0},{"c":0.625,"z":0.2,"s":-34.5},{"c":0.625,"z":0.15,"s":-35.0},{"c":0.625,"z":0.1,"s":-34.5},{"c":0.625,"z":0.05,"s":-33.3},{"c":0.625,"z":0,"s":-31.7},{"c":0.625,"z":-0.05,"s":-29.4},{"c":0.625,"z":-0.1,"s":-27.0},{"c":0.625,"z":-0.15,"s":-24.3},{"c":0.625,"z":-0.2,"s":-21.4},{"c":0.625,"z":-0.3,"s":-15.2},{"c":0.625,"z":-0.4,"s":-8.3},{"c":0.625,"z":-0.45,"s":-4.7},{"c":0.625,"z":-0.475,"s":-2.9},{"c":0.625,"z":-0.5,"s":-0.9},
{"c":0.6667,"z":0.5,"s":0},{"c":0.6667,"z":0.475,"s":-10.0},{"c":0.6667,"z":0.45,"s":-18.3},{"c":0.6667,"z":0.425,"s":-24.6},{"c":0.6667,"z":0.4,"s":-29.6},{"c":0.6667,"z":0.35,"s":-36.6},{"c":0.6667,"z":0.3,"s":-41.6},{"c":0.6667,"z":0.25,"s":-44.7},{"c":0.6667,"z":0.2,"s":-46.6},{"c":0.6667,"z":0.15,"s":-47.3},{"c":0.6667,"z":0.1,"s":-46.6},{"c":0.6667,"z":0.05,"s":-45.0},{"c":0.6667,"z":0,"s":-42.8},{"c":0.6667,"z":-0.05,"s":-39.7},{"c":0.6667,"z":-0.1,"s":-36.4},{"c":0.6667,"z":-0.15,"s":-32.8},{"c":0.6667,"z":-0.2,"s":-28.9},{"c":0.6667,"z":-0.3,"s":-20.6},{"c":0.6667,"z":-0.4,"s":-11.2},{"c":0.6667,"z":-0.45,"s":-6.4},{"c":0.6667,"z":-0.475,"s":-3.9},{"c":0.6667,"z":-0.5,"s":-1.2},
{"c":0.7083,"z":0.5,"s":0},{"c":0.7083,"z":0.475,"s":-12.6},{"c":0.7083,"z":0.45,"s":-23.0},{"c":0.7083,"z":0.425,"s":-31.1},{"c":0.7083,"z":0.4,"s":-37.3},{"c":0.7083,"z":0.35,"s":-46.1},{"c":0.7083,"z":0.3,"s":-52.4},{"c":0.7083,"z":0.25,"s":-56.3},{"c":0.7083,"z":0.2,"s":-58.7},{"c":0.7083,"z":0.15,"s":-59.6},{"c":0.7083,"z":0.1,"s":-58.8},{"c":0.7083,"z":0.05,"s":-56.7},{"c":0.7083,"z":0,"s":-53.9},{"c":0.7083,"z":-0.05,"s":-50.1},{"c":0.7083,"z":-0.1,"s":-45.9},{"c":0.7083,"z":-0.15,"s":-41.3},{"c":0.7083,"z":-0.2,"s":-36.5},{"c":0.7083,"z":-0.3,"s":-25.9},{"c":0.7083,"z":-0.4,"s":-14.1},{"c":0.7083,"z":-0.45,"s":-8.0},{"c":0.7083,"z":-0.475,"s":-4.9},{"c":0.7083,"z":-0.5,"s":-1.5},
{"c":0.75,"z":0.5,"s":0},{"c":0.75,"z":0.475,"s":-15.2},{"c":0.75,"z":0.45,"s":-27.8},{"c":0.75,"z":0.425,"s":-37.6},{"c":0.75,"z":0.4,"s":-45.1},{"c":0.75,"z":0.35,"s":-55.8},{"c":0.75,"z":0.3,"s":-63.4},{"c":0.75,"z":0.25,"s":-68.1},{"c":0.75,"z":0.2,"s":-71.0},{"c":0.75,"z":0.15,"s":-72.1},{"c":0.75,"z":0.1,"s":-71.1},{"c":0.75,"z":0.05,"s":-68.6},{"c":0.75,"z":0,"s":-65.3},{"c":0.75,"z":-0.05,"s":-60.6},{"c":0.75,"z":-0.1,"s":-55.5},{"c":0.75,"z":-0.15,"s":-50.0},{"c":0.75,"z":-0.2,"s":-44.1},{"c":0.75,"z":-0.3,"s":-31.4},{"c":0.75,"z":-0.4,"s":-17.1},{"c":0.75,"z":-0.45,"s":-9.7},{"c":0.75,"z":-0.475,"s":-5.9},{"c":0.75,"z":-0.5,"s":-1.8},
{"c":0.7917,"z":0.5,"s":0},{"c":0.7917,"z":0.475,"s":-17.8},{"c":0.7917,"z":0.45,"s":-32.5},{"c":0.7917,"z":0.425,"s":-43.9},{"c":0.7917,"z":0.4,"s":-52.7},{"c":0.7917,"z":0.35,"s":-65.2},{"c":0.7917,"z":0.3,"s":-74.1},{"c":0.7917,"z":0.25,"s":-79.5},{"c":0.7917,"z":0.2,"s":-82.9},{"c":0.7917,"z":0.15,"s":-84.2},{"c":0.7917,"z":0.1,"s":-83.0},{"c":0.7917,"z":0.05,"s":-80.2},{"c":0.7917,"z":0,"s":-76.2},{"c":0.7917,"z":-0.05,"s":-70.7},{"c":0.7917,"z":-0.1,"s":-64.8},{"c":0.7917,"z":-0.15,"s":-58.4},{"c":0.7917,"z":-0.2,"s":-51.5},{"c":0.7917,"z":-0.3,"s":-36.6},{"c":0.7917,"z":-0.4,"s":-20.0},{"c":0.7917,"z":-0.45,"s":-11.4},{"c":0.7917,"z":-0.475,"s":-6.9},{"c":0.7917,"z":-0.5,"s":-2.1},
{"c":0.8333,"z":0.5,"s":0},{"c":0.8333,"z":0.475,"s":-20.4},{"c":0.8333,"z":0.45,"s":-37.2},{"c":0.8333,"z":0.425,"s":-50.3},{"c":0.8333,"z":0.4,"s":-60.4},{"c":0.8333,"z":0.35,"s":-74.7},{"c":0.8333,"z":0.3,"s":-84.9},{"c":0.8333,"z":0.25,"s":-91.1},{"c":0.8333,"z":0.2,"s":-95.1},{"c":0.8333,"z":0.15,"s":-96.5},{"c":0.8333,"z":0.1,"s":-95.1},{"c":0.8333,"z":0.05,"s":-91.9},{"c":0.8333,"z":0,"s":-87.3},{"c":0.8333,"z":-0.05,"s":-81.1},{"c":0.8333,"z":-0.1,"s":-74.3},{"c":0.8333,"z":-0.15,"s":-66.9},{"c":0.8333,"z":-0.2,"s":-59.1},{"c":0.8333,"z":-0.3,"s":-42.0},{"c":0.8333,"z":-0.4,"s":-22.9},{"c":0.8333,"z":-0.45,"s":-13.0},{"c":0.8333,"z":-0.475,"s":-7.9},{"c":0.8333,"z":-0.5,"s":-2.4},
{"c":0.875,"z":0.5,"s":0},{"c":0.875,"z":0.475,"s":-23.0},{"c":0.875,"z":0.45,"s":-42.1},{"c":0.875,"z":0.425,"s":-56.8},{"c":0.875,"z":0.4,"s":-68.2},{"c":0.875,"z":0.35,"s":-84.4},{"c":0.875,"z":0.3,"s":-95.9},{"c":0.875,"z":0.25,"s":-102.9},{"c":0.875,"z":0.2,"s":-107.4},{"c":0.875,"z":0.15,"s":-109.0},{"c":0.875,"z":0.1,"s":-107.5},{"c":0.875,"z":0.05,"s":-103.8},{"c":0.875,"z":0,"s":-98.6},{"c":0.875,"z":-0.05,"s":-91.6},{"c":0.875,"z":-0.1,"s":-83.9},{"c":0.875,"z":-0.15,"s":-75.5},{"c":0.875,"z":-0.2,"s":-66.7},{"c":0.875,"z":-0.3,"s":-47.4},{"c":0.875,"z":-0.4,"s":-25.8},{"c":0.875,"z":-0.45,"s":-14.7},{"c":0.875,"z":-0.475,"s":-8.9},{"c":0.875,"z":-0.5,"s":-2.7},
{"c":0.9167,"z":0.5,"s":0},{"c":0.9167,"z":0.475,"s":-25.7},{"c":0.9167,"z":0.45,"s":-46.9},{"c":0.9167,"z":0.425,"s":-63.4},{"c":0.9167,"z":0.4,"s":-76.1},{"c":0.9167,"z":0.35,"s":-94.1},{"c":0.9167,"z":0.3,"s":-107.0},{"c":0.9167,"z":0.25,"s":-114.8},{"c":0.9167,"z":0.2,"s":-119.8},{"c":0.9167,"z":0.15,"s":-121.6},{"c":0.9167,"z":0.1,"s":-119.9},{"c":0.9167,"z":0.05,"s":-115.8},{"c":0.9167,"z":0,"s":-110.0},{"c":0.9167,"z":-0.05,"s":-102.1},{"c":0.9167,"z":-0.1,"s":-93.6},{"c":0.9167,"z":-0.15,"s":-84.3},{"c":0.9167,"z":-0.2,"s":-74.4},{"c":0.9167,"z":-0.3,"s":-52.9},{"c":0.9167,"z":-0.4,"s":-28.8},{"c":0.9167,"z":-0.45,"s":-16.4},{"c":0.9167,"z":-0.475,"s":-10.0},{"c":0.9167,"z":-0.5,"s":-3.0},
{"c":0.9583,"z":0.5,"s":0},{"c":0.9583,"z":0.475,"s":-28.3},{"c":0.9583,"z":0.45,"s":-51.7},{"c":0.9583,"z":0.425,"s":-69.8},{"c":0.9583,"z":0.4,"s":-83.8},{"c":0.9583,"z":0.35,"s":-103.6},{"c":0.9583,"z":0.3,"s":-117.8},{"c":0.9583,"z":0.25,"s":-126.4},{"c":0.9583,"z":0.2,"s":-131.9},{"c":0.9583,"z":0.15,"s":-133.9},{"c":0.9583,"z":0.1,"s":-132.0},{"c":0.9583,"z":0.05,"s":-127.5},{"c":0.9583,"z":0,"s":-121.2},{"c":0.9583,"z":-0.05,"s":-112.5},{"c":0.9583,"z":-0.1,"s":-103.1},{"c":0.9583,"z":-0.15,"s":-92.8},{"c":0.9583,"z":-0.2,"s":-81.9},{"c":0.9583,"z":-0.3,"s":-58.2},{"c":0.9583,"z":-0.4,"s":-31.7},{"c":0.9583,"z":-0.45,"s":-18.1},{"c":0.9583,"z":-0.475,"s":-11.0},{"c":0.9583,"z":-0.5,"s":-3.3},
{"c":1,"z":0.5,"s":0},{"c":1,"z":0.475,"s":-31.1},{"c":1,"z":0.45,"s":-56.8},{"c":1,"z":0.425,"s":-76.7},{"c":1,"z":0.4,"s":-92.1},{"c":1,"z":0.35,"s":-113.9},{"c":1,"z":0.3,"s":-129.5},{"c":1,"z":0.25,"s":-139.0},{"c":1,"z":0.2,"s":-145.0},{"c":1,"z":0.15,"s":-147.2},{"c":1,"z":0.1,"s":-145.1},{"c":1,"z":0.05,"s":-140.1},{"c":1,"z":0,"s":-133.2},{"c":1,"z":-0.05,"s":-123.6},{"c":1,"z":-0.1,"s":-113.3},{"c":1,"z":-0.15,"s":-102.0},{"c":1,"z":-0.2,"s":-90.1},{"c":1,"z":-0.3,"s":-64.0},{"c":1,"z":-0.4,"s":-34.9},{"c":1,"z":-0.45,"s":-19.9},{"c":1,"z":-0.475,"s":-12.1},{"c":1,"z":-0.5,"s":-3.7}
]
},
"hconcat":[
{
 "width":484,"height":388,
 "resolve":{"axis":{"x":"independent","y":"independent"}},
 "layer":[
  {"data":{"name":"L"},
   "mark":{"type":"line","strokeWidth":1,"interpolate":"catmull-rom"},
   "encoding":{
    "x":{"field":"s","type":"quantitative","scale":{"domain":[-100,100],"nice":false,"zero":false},"axis":{"values":[-100,-80,-60,-40,-20,0,20,40,60,80,100],"labelExpr":"datum.value+''","title":null}},
    "y":{"field":"z","type":"quantitative","scale":{"domain":[-0.5,0.5],"nice":false,"zero":false},"axis":{"values":[-0.5,-0.4,-0.3,-0.2,-0.1,0,0.1,0.2,0.3,0.4,0.5],"labelExpr":"datum.value+''","title":"z/h","titlePadding":4}},
    "color":{"field":"c","type":"quantitative","scale":{"domain":[0,0.125,0.375,0.625,0.875,1],"range":["#00007f","#0000ff","#00ffff","#ffff00","#ff0000","#7f0000"]},"legend":{"title":"x/L","type":"gradient","values":[0,0.1,0.2,0.3,0.4,0.5,0.6,0.7,0.8,0.9,1],"labelExpr":"datum.value+''"}},
    "detail":{"field":"c","type":"nominal"},
    "order":{"field":"z","type":"quantitative"}
   }},
  {"data":{"name":"L"},
   "mark":{"type":"point","opacity":0},
   "encoding":{
    "x":{"field":"s","type":"quantitative","axis":{"orient":"top","labels":false,"title":null,"values":[-100,-80,-60,-40,-20,0,20,40,60,80,100]}},
    "y":{"field":"z","type":"quantitative","axis":{"orient":"right","labels":false,"title":null,"values":[-0.5,-0.4,-0.3,-0.2,-0.1,0,0.1,0.2,0.3,0.4,0.5]}}
   }},
  {"data":{"values":[{"t":"Clamped beam"}]},"mark":{"type":"text","font":"DejaVu Serif","fontSize":17,"align":"center","baseline":"alphabetic"},
   "encoding":{"x":{"datum":68.4,"axis":null},"y":{"datum":0.4412,"axis":null},"text":{"field":"t"}}},
  {"data":{"values":[{"t":"ℓ/h = 0.5"}]},"mark":{"type":"text","font":"DejaVu Serif","fontSize":18,"fontStyle":"italic","align":"center","baseline":"alphabetic"},
   "encoding":{"x":{"datum":77.3,"axis":null},"y":{"datum":0.3871,"axis":null},"text":{"field":"t"}}},
  {"data":{"values":[{"t":"n̂ = 0"}]},"mark":{"type":"text","font":"DejaVu Serif","fontSize":18,"fontStyle":"italic","align":"center","baseline":"alphabetic"},
   "encoding":{"x":{"datum":75.6,"axis":null},"y":{"datum":0.3317,"axis":null},"text":{"field":"t"}}},
  {"data":{"values":[{"t":"S̄"}]},"mark":{"type":"text","fontSize":22,"fontStyle":"italic","align":"center","baseline":"alphabetic","dy":30},
   "encoding":{"x":{"datum":-5.4,"axis":null},"y":{"datum":-0.5,"axis":null},"text":{"field":"t"}}},
  {"data":{"values":[{"t":"sym"}]},"mark":{"type":"text","fontSize":13,"fontStyle":"italic","align":"left","baseline":"alphabetic","dy":22},
   "encoding":{"x":{"datum":-2.1,"axis":null},"y":{"datum":-0.5,"axis":null},"text":{"field":"t"}}},
  {"data":{"values":[{"t":"xz"}]},"mark":{"type":"text","fontSize":13,"fontStyle":"italic","align":"left","baseline":"alphabetic","dy":38},
   "encoding":{"x":{"datum":-2.1,"axis":null},"y":{"datum":-0.5,"axis":null},"text":{"field":"t"}}}
 ]
},
{
 "width":484,"height":388,
 "resolve":{"axis":{"x":"independent","y":"independent"}},
 "layer":[
  {"data":{"name":"R"},
   "mark":{"type":"line","strokeWidth":1,"interpolate":"catmull-rom"},
   "encoding":{
    "x":{"field":"s","type":"quantitative","scale":{"domain":[-150,200],"nice":false,"zero":false},"axis":{"values":[-150,-100,-50,0,50,100,150,200],"labelExpr":"datum.value+''","title":null}},
    "y":{"field":"z","type":"quantitative","scale":{"domain":[-0.5,0.5],"nice":false,"zero":false},"axis":{"values":[-0.5,-0.4,-0.3,-0.2,-0.1,0,0.1,0.2,0.3,0.4,0.5],"labelExpr":"datum.value+''","title":"z/h","titlePadding":4}},
    "color":{"field":"c","type":"quantitative","scale":{"domain":[0,0.125,0.375,0.625,0.875,1],"range":["#00007f","#0000ff","#00ffff","#ffff00","#ff0000","#7f0000"]},"legend":{"title":"x/L","type":"gradient","values":[0,0.1,0.2,0.3,0.4,0.5,0.6,0.7,0.8,0.9,1],"labelExpr":"datum.value+''"}},
    "detail":{"field":"c","type":"nominal"},
    "order":{"field":"z","type":"quantitative"}
   }},
  {"data":{"name":"R"},
   "mark":{"type":"point","opacity":0},
   "encoding":{
    "x":{"field":"s","type":"quantitative","axis":{"orient":"top","labels":false,"title":null,"values":[-150,-100,-50,0,50,100,150,200]}},
    "y":{"field":"z","type":"quantitative","axis":{"orient":"right","labels":false,"title":null,"values":[-0.5,-0.4,-0.3,-0.2,-0.1,0,0.1,0.2,0.3,0.4,0.5]}}
   }},
  {"data":{"values":[{"t":"Clamped beam"}]},"mark":{"type":"text","font":"DejaVu Serif","fontSize":17,"align":"center","baseline":"alphabetic"},
   "encoding":{"x":{"datum":114.5,"axis":null},"y":{"datum":-0.314,"axis":null},"text":{"field":"t"}}},
  {"data":{"values":[{"t":"ℓ/h = 0, \u00a0n̂ = 1"}]},"mark":{"type":"text","font":"DejaVu Serif","fontSize":18,"fontStyle":"italic","align":"center","baseline":"alphabetic"},
   "encoding":{"x":{"datum":108,"axis":null},"y":{"datum":-0.417,"axis":null},"text":{"field":"t"}}},
  {"data":{"values":[{"t":"S̄"}]},"mark":{"type":"text","fontSize":22,"fontStyle":"italic","align":"center","baseline":"alphabetic","dy":30},
   "encoding":{"x":{"datum":19.8,"axis":null},"y":{"datum":-0.5,"axis":null},"text":{"field":"t"}}},
  {"data":{"values":[{"t":"xz"}]},"mark":{"type":"text","fontSize":13,"fontStyle":"italic","align":"left","baseline":"alphabetic","dy":37},
   "encoding":{"x":{"datum":26.3,"axis":null},"y":{"datum":-0.5,"axis":null},"text":{"field":"t"}}}
 ]
}
]
}
